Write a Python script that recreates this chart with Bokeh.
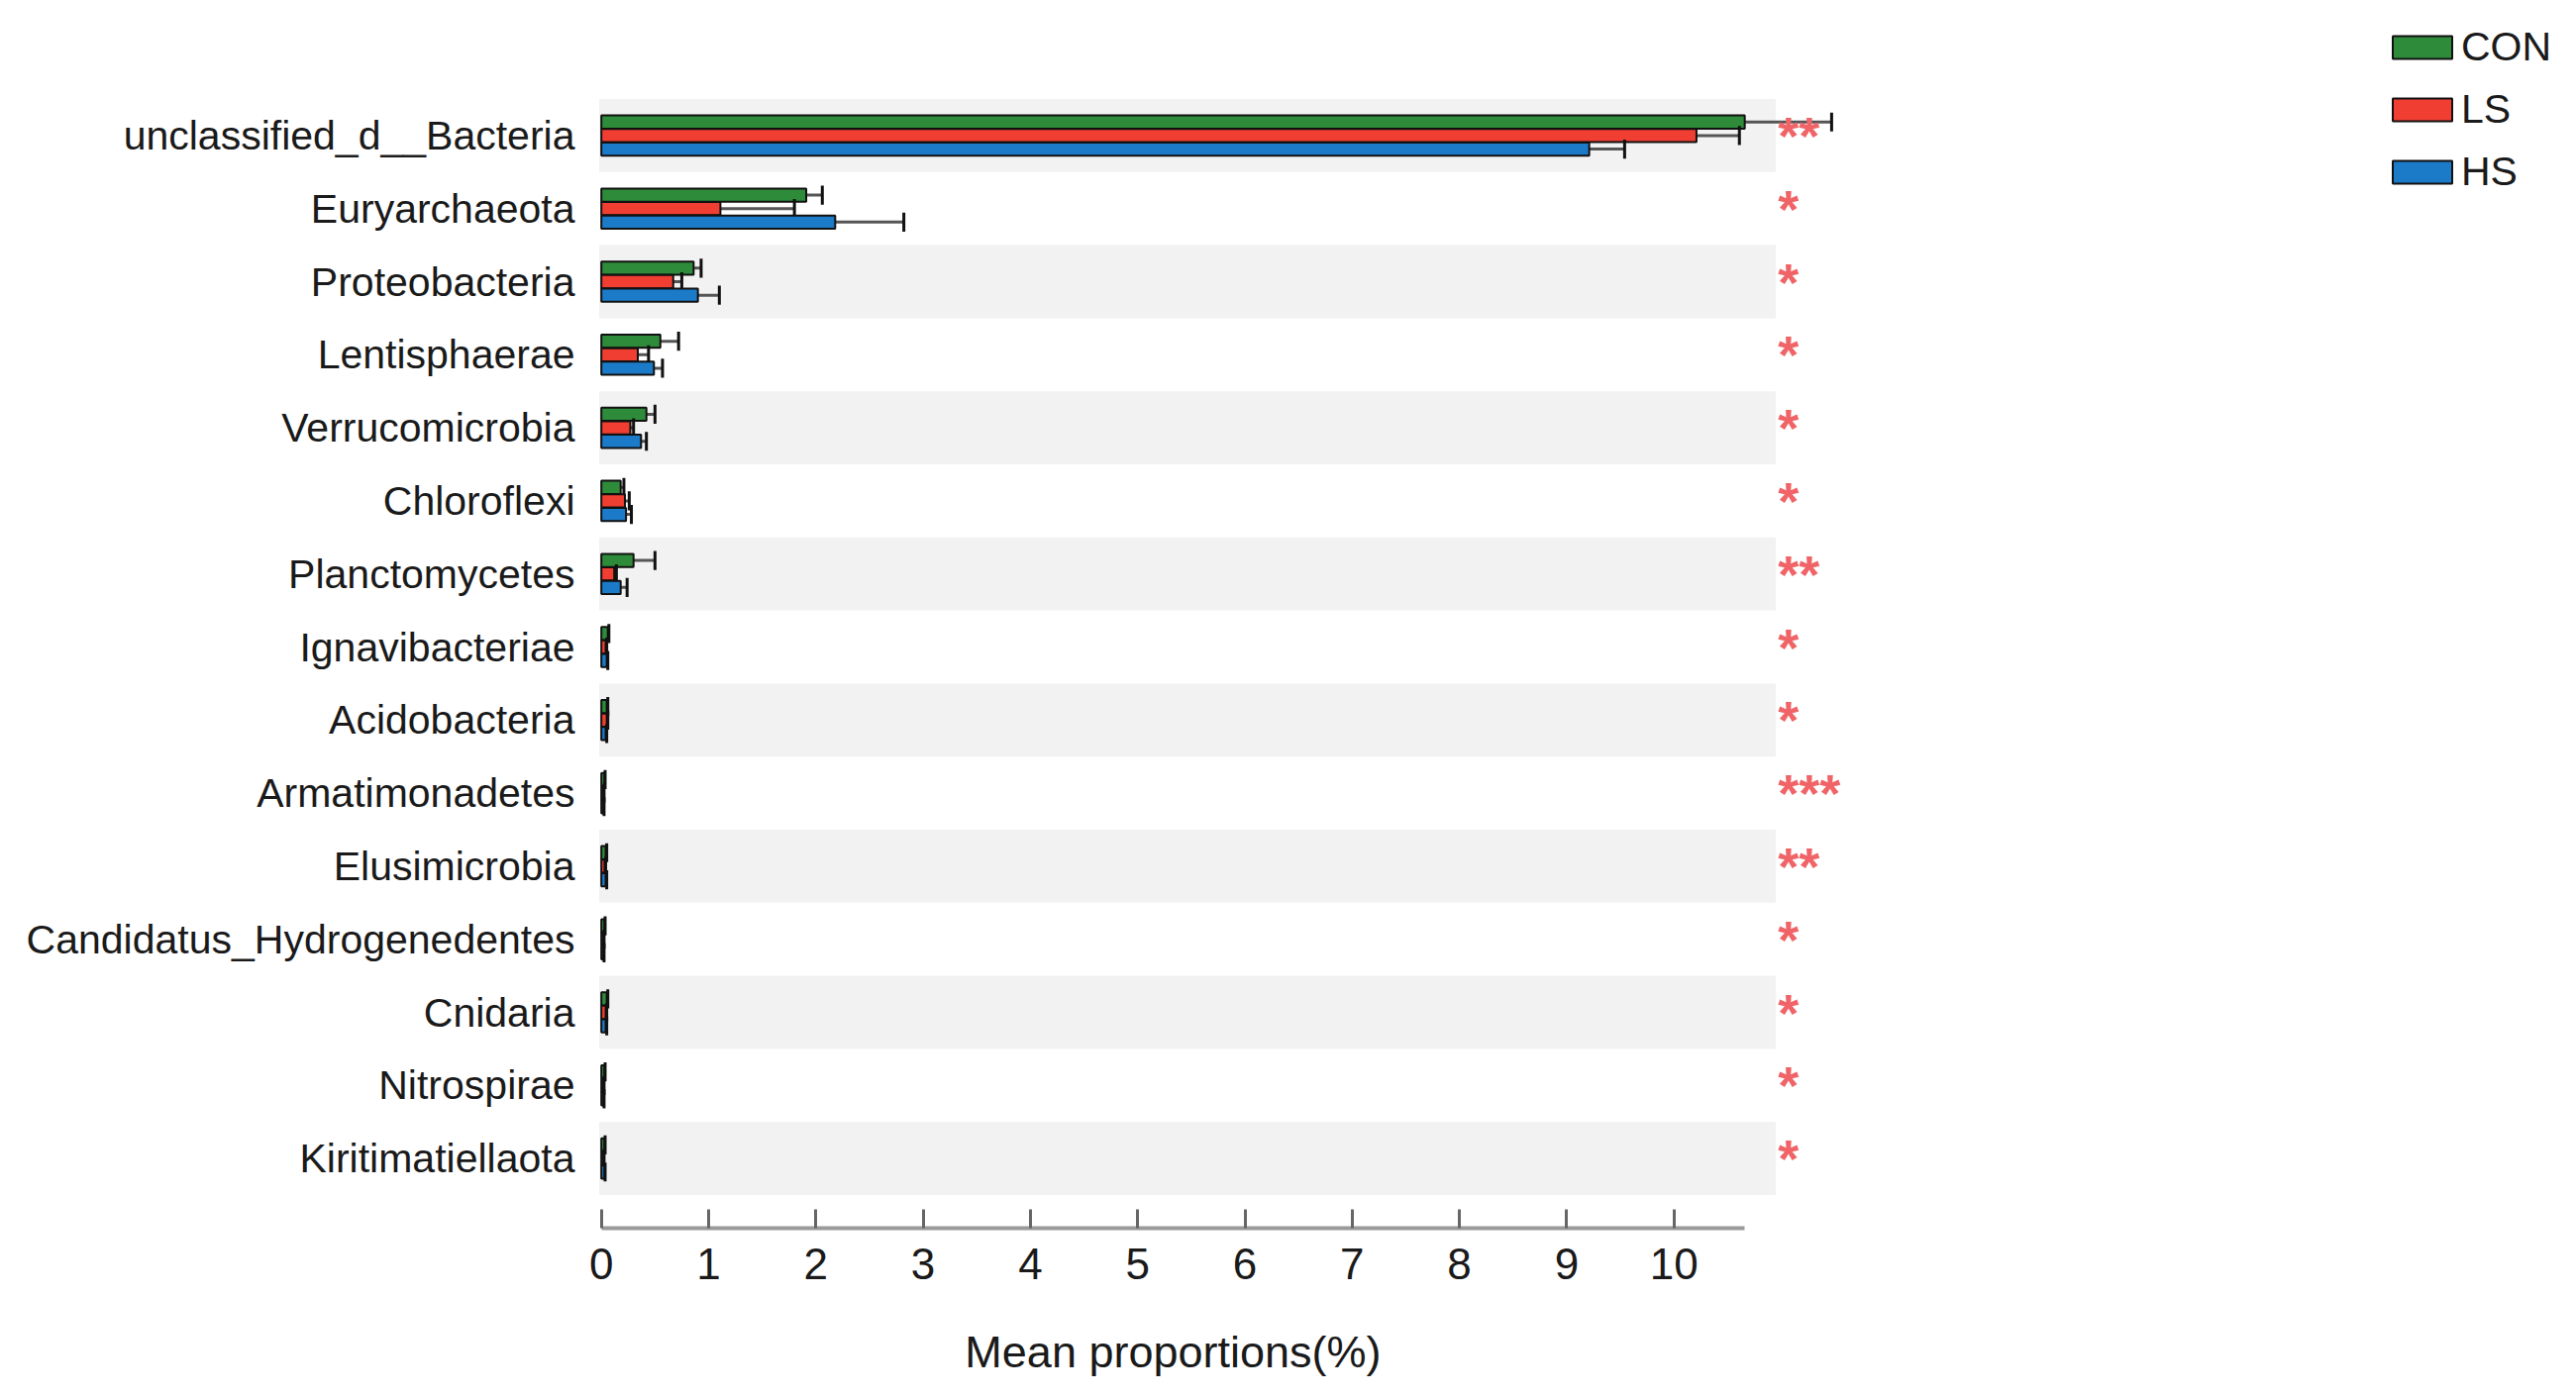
from bokeh.plotting import figure
from bokeh.layouts import column
from bokeh.models import Range1d, FixedTicker, Legend, LegendItem, ColumnDataSource
from bokeh.core.properties import value
from bokeh.embed import file_html
from bokeh.resources import INLINE

# ---------------- data ----------------
categories = ["unclassified_d__Bacteria", "Euryarchaeota", "Proteobacteria", "Lentisphaerae",
              "Verrucomicrobia", "Chloroflexi", "Planctomycetes", "Ignavibacteriae",
              "Acidobacteria", "Armatimonadetes", "Elusimicrobia", "Candidatus_Hydrogenedentes",
              "Cnidaria", "Nitrospirae", "Kiritimatiellaota"]
groups = ["CON", "LS", "HS"]
con_mean = [10.66, 1.91, 0.86, 0.55, 0.42, 0.18, 0.30, 0.06, 0.05, 0.03, 0.04, 0.03, 0.05, 0.03, 0.03]
con_err = [0.81, 0.15, 0.07, 0.17, 0.08, 0.03, 0.20, 0.01, 0.01, 0.005, 0.01, 0.005, 0.01, 0.005, 0.005]
ls_mean = [10.21, 1.11, 0.67, 0.34, 0.27, 0.22, 0.12, 0.04, 0.05, 0.02, 0.03, 0.02, 0.04, 0.02, 0.02]
ls_err = [0.40, 0.69, 0.08, 0.10, 0.03, 0.04, 0.02, 0.01, 0.01, 0.005, 0.01, 0.005, 0.01, 0.005, 0.005]
hs_mean = [9.21, 2.18, 0.90, 0.49, 0.37, 0.23, 0.18, 0.05, 0.04, 0.02, 0.04, 0.02, 0.04, 0.02, 0.03]
hs_err = [0.33, 0.64, 0.20, 0.08, 0.05, 0.05, 0.06, 0.01, 0.01, 0.005, 0.01, 0.005, 0.01, 0.005, 0.005]
significance = ["**", "*", "*", "*", "*", "*", "**", "*", "*", "***", "**", "*", "*", "*", "*"]
x_ticks = [0, 1, 2, 3, 4, 5, 6, 7, 8, 9, 10]
x_title = "Mean proportions(%)"

# ---------------- styles / layout ----------------
colors = {"CON": "#2E8B3A", "LS": "#F03E32", "HS": "#1C7BC9"}
offsets = {"CON": 0.185, "LS": 0.0, "HS": -0.185}
BAR_H = 0.18
CAP = 0.13
FONT = "Liberation Sans"
TEXT_COLOR = "#1a1a1a"
W = 2595
H_MAIN = 1320            # main chart (frame + x-axis)
H_TITLE = 80             # strip holding the x-axis title
FRAME_L, FRAME_T, FRAME_B = 600, 0, 1240
FRAME_R = W
PX_PER_UNIT = 108.3
ROW_PX = 73.8
ZERO_OFFSET = 6.7        # px from frame left to x=0
TOP_ROW_PX = 136.4       # px from frame top to first row center
TITLE_FROM_TOP = 45      # px from top of title strip to title centre

n = len(categories)
row_y = [n - 1 - i for i in range(n)]

x_start = -ZERO_OFFSET / PX_PER_UNIT
x_end = x_start + (FRAME_R - FRAME_L) / PX_PER_UNIT
y_end = (n - 1) + TOP_ROW_PX / ROW_PX
y_start = y_end - (FRAME_B - FRAME_T) / ROW_PX
x_range = Range1d(x_start, x_end)

p = figure(width=W, height=H_MAIN, output_backend="svg", toolbar_location=None, title=None,
           x_range=x_range, y_range=Range1d(y_start, y_end),
           min_border_left=FRAME_L, min_border_right=0, min_border_top=0,
           min_border_bottom=H_MAIN - FRAME_B)
p.outline_line_color = None
p.xgrid.visible = False
p.ygrid.visible = False
p.background_fill_color = "white"

# alternating background bands
band_y = [y for i, y in enumerate(row_y) if i % 2 == 0]
p.hbar(y=band_y, left=-0.02, right=10.95, height=1.0, fill_color="#F2F2F2", line_color=None)

means = {"CON": con_mean, "LS": ls_mean, "HS": hs_mean}
errs = {"CON": con_err, "LS": ls_err, "HS": hs_err}
renderers = {}
for g in groups:
    ys = [y + offsets[g] for y in row_y]
    upper = [m + e for m, e in zip(means[g], errs[g])]
    src = ColumnDataSource(dict(y=ys, mean=means[g], upper=upper,
                                lo=[y - CAP for y in ys], hi=[y + CAP for y in ys]))
    p.segment(x0="mean", y0="y", x1="upper", y1="y", source=src, line_color="#555555", line_width=3)
    renderers[g] = p.hbar(y="y", left=0, right="mean", height=BAR_H, source=src,
                          fill_color=colors[g], line_color="#111111", line_width=2)
    p.segment(x0="upper", y0="lo", x1="upper", y1="hi", source=src, line_color="#111111", line_width=3)

# significance stars
p.text(x=10.97, y=row_y, text=significance, text_font=value(FONT), text_font_size="54px",
       text_font_style="bold", text_color="#F06468", text_baseline="middle", text_align="left")

# x axis
axis_end = max(con_mean)
xa = p.xaxis[0]
xa.ticker = FixedTicker(ticks=x_ticks)
xa.bounds = (0, axis_end)
xa.major_tick_in = 19
xa.major_tick_out = 0
xa.minor_tick_line_color = None
xa.major_tick_line_color = "#666666"
xa.major_tick_line_width = 3
xa.axis_line_color = "#9a9a9a"
xa.axis_line_width = 4
xa.major_label_text_font = FONT
xa.major_label_text_font_size = "44px"
xa.major_label_text_color = TEXT_COLOR
xa.major_label_standoff = 20

# y axis (category labels)
ya = p.yaxis[0]
ya.ticker = FixedTicker(ticks=row_y)
ya.major_label_overrides = {y: c for y, c in zip(row_y, categories)}
ya.axis_line_color = None
ya.major_tick_line_color = None
ya.minor_tick_line_color = None
ya.major_label_standoff = 14
ya.major_label_text_font = FONT
ya.major_label_text_font_size = "41px"
ya.major_label_text_color = TEXT_COLOR

# legend
legend = Legend(items=[LegendItem(label=g, renderers=[renderers[g]]) for g in groups],
                location=(1808, 1043), glyph_width=75, glyph_height=29,
                label_text_font=FONT, label_text_font_size="41px", label_text_color=TEXT_COLOR,
                label_standoff=2, label_height=40, spacing=16, padding=0, margin=0,
                border_line_color=None, background_fill_alpha=0)
p.add_layout(legend)

# strip below the chart carrying the x-axis title, sharing the x scale
pt = figure(width=W, height=H_TITLE, output_backend="svg", toolbar_location=None, title=None,
            x_range=x_range, y_range=Range1d(0, H_TITLE), x_axis_type=None, y_axis_type=None,
            min_border_left=FRAME_L, min_border_right=0, min_border_top=0, min_border_bottom=0)
pt.outline_line_color = None
pt.text(x=[axis_end / 2], y=[H_TITLE - TITLE_FROM_TOP], text=[x_title], text_font=value(FONT),
        text_font_size="45px", text_color=TEXT_COLOR, text_align="center", text_baseline="middle")

layout = column(p, pt, spacing=0)
open("out.html", "w").write(file_html(layout, INLINE))
